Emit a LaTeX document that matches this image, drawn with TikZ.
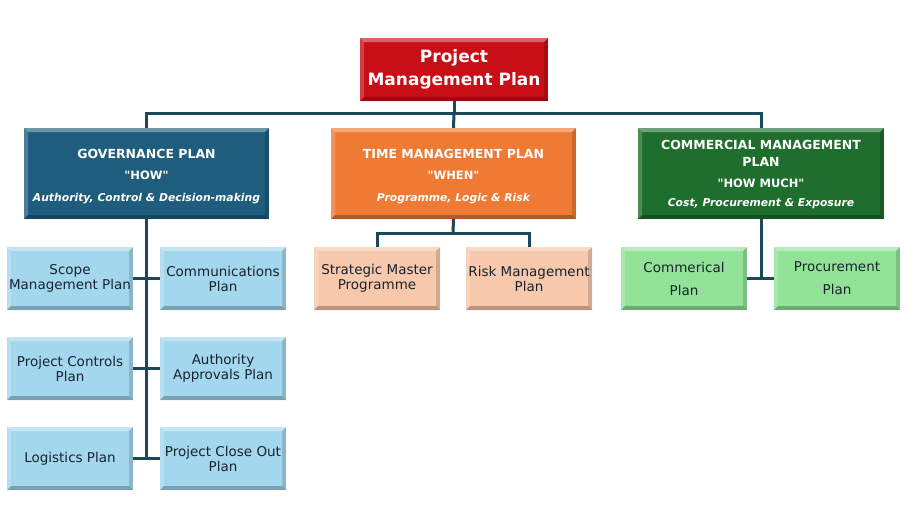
\documentclass[tikz,border=0pt]{standalone}
\usepackage{fontspec}
\setmainfont{DejaVu Sans}
\newfontfamily\qfont{DejaVu Sans}
\definecolor{cred}{RGB}{200,14,22}
\definecolor{cgov}{RGB}{30,93,125}
\definecolor{corg}{RGB}{238,122,52}
\definecolor{cgrn}{RGB}{30,110,45}
\definecolor{lblue}{RGB}{163,215,238}
\definecolor{lpeach}{RGB}{247,200,172}
\definecolor{lgreen}{RGB}{146,226,152}
\definecolor{cline}{RGB}{28,72,92}
\definecolor{ctext}{RGB}{25,35,45}
\tikzset{
  bev/.style={rectangle, inner sep=2pt, align=center,
    path picture={
      \fill[white,opacity=.35] (path picture bounding box.north west) -- (path picture bounding box.north east) -- ([xshift=-4pt,yshift=-4pt]path picture bounding box.north east) -- ([xshift=4pt,yshift=-4pt]path picture bounding box.north west) -- cycle;
      \fill[white,opacity=.2] (path picture bounding box.north west) -- ([xshift=4pt,yshift=-4pt]path picture bounding box.north west) -- ([xshift=4pt,yshift=4pt]path picture bounding box.south west) -- (path picture bounding box.south west) -- cycle;
      \fill[black,opacity=.25] (path picture bounding box.south west) -- ([xshift=4pt,yshift=4pt]path picture bounding box.south west) -- ([xshift=-4pt,yshift=4pt]path picture bounding box.south east) -- (path picture bounding box.south east) -- cycle;
      \fill[black,opacity=.15] (path picture bounding box.south east) -- ([xshift=-4pt,yshift=4pt]path picture bounding box.south east) -- ([xshift=-4pt,yshift=-4pt]path picture bounding box.north east) -- (path picture bounding box.north east) -- cycle;
    }},
  topbox/.style={bev, fill=cred, text=white, minimum width=188pt, minimum height=63pt,
    font=\fontsize{17}{23}\selectfont\bfseries},
  midbox/.style={bev, text=white, minimum width=245pt, minimum height=91pt,
    font=\fontsize{12}{21.5}\selectfont},
  kid/.style={bev, text=ctext, minimum width=126pt, minimum height=63pt,
    font=\fontsize{13.5}{15}\selectfont},
  conn/.style={draw=cline, line width=3pt},
}
\newcommand{\dq}{{\qfont\bfseries"}}
\newcommand{\mtitle}[1]{{\fontsize{12.5}{16}\selectfont\bfseries #1}}
\newcommand{\mquote}[1]{{\fontsize{11.5}{13}\selectfont\bfseries\dq#1\dq}}
\newcommand{\mital}[1]{{\fontsize{10.8}{13}\selectfont\bfseries\itshape #1}}
\begin{document}
\begin{tikzpicture}[x=1pt,y=-1pt]
\useasboundingbox[fill=white] (0,0) rectangle (904,530);
% nodes
\node[topbox] (pmp) at (454,69.5) {Project\\Management Plan};
\node[midbox, fill=cgov] (gov) at (146.5,173.5) {\rule{0pt}{15pt}\mtitle{GOVERNANCE PLAN}\\\mquote{HOW}\\\mital{Authority, Control \& Decision-making}};
\node[midbox, fill=corg] (tim) at (453.5,173.5) {\rule{0pt}{15pt}\mtitle{TIME MANAGEMENT PLAN}\\\mquote{WHEN}\\\mital{Programme, Logic \& Risk}};
\node[midbox, fill=cgrn, minimum width=246pt] (com) at (761,173.5) {\rule{0pt}{11pt}\mtitle{COMMERCIAL MANAGEMENT}\\[-4.5pt]\mtitle{PLAN}\\\mquote{HOW MUCH}\\[-3pt]\mital{Cost, Procurement \& Exposure}};
\node[kid, fill=lblue] (scope) at (70,278.5) {Scope\\Management Plan};
\node[kid, fill=lblue] (comm) at (223,278.5) {Communications\\Plan};
\node[kid, fill=lblue] (pcp) at (70,368.5) {Project Controls\\Plan};
\node[kid, fill=lblue] (aap) at (223,368.5) {Authority\\Approvals Plan};
\node[kid, fill=lblue] (logi) at (70,458.5) {Logistics Plan};
\node[kid, fill=lblue] (pco) at (223,458.5) {Project Close Out\\Plan};
\node[kid, fill=lpeach] (smp) at (377,278.5) {Strategic Master\\Programme};
\node[kid, fill=lpeach] (rmp) at (529,278.5) {Risk Management\\Plan};
\node[kid, fill=lgreen, font=\fontsize{13.5}{23}\selectfont] (cp) at (684,278.5) {Commerical\\Plan};
\node[kid, fill=lgreen, font=\fontsize{13.5}{23}\selectfont] (pp) at (837,278.5) {Procurement\\Plan};
% connectors
\coordinate (bus) at (454,113);
\coordinate (tbus) at (453,233);
\path[conn] (pmp.south) -- (bus);
\path[conn] (gov.north) |- (bus) -| (com.north);
\path[conn] (bus) -- (tim.north);
\path[conn] (gov.south) -- (gov.south |- pco.west);
\path[conn] (scope.east) -- (comm.west);
\path[conn] (pcp.east) -- (aap.west);
\path[conn] (logi.east) -- (pco.west);
\path[conn] (tim.south) -- (tbus);
\path[conn] (smp.north) |- (tbus) -| (rmp.north);
\path[conn] (com.south) -- (com.south |- cp.east);
\path[conn] (cp.east) -- (pp.west);
\end{tikzpicture}
\end{document}
